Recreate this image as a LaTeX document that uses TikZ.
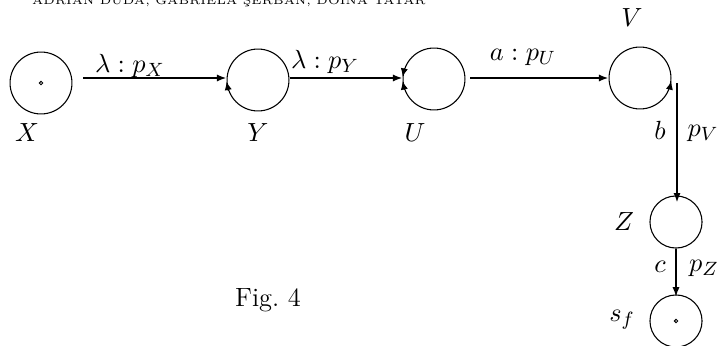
\documentclass[tikz,border=0pt]{standalone}
\usepackage{amsmath,amssymb}
\usepackage{xcolor}
\usepackage{tikz}
\usetikzlibrary{arrows.meta}
\definecolor{figline}{RGB}{0,0,0}
\tikzset{
  state/.style ={circle, draw=figline, line width=0.45pt, minimum size=25.8pt, inner sep=0pt},
  smst/.style  ={circle, draw=figline, line width=0.45pt, minimum size=21.7pt, inner sep=0pt},
  lab/.style   ={font=\fontsize{11}{13}\selectfont, inner sep=1pt},
  hdr/.style   ={font=\fontsize{4.8}{6}\selectfont, inner sep=0pt, anchor=base},
  ptr/.style   ={draw=figline, line width=0.8pt, -{Latex[length=4pt,width=3pt]}},
  tick/.style  ={draw=figline, line width=0.5pt, -{Latex[length=3.5pt,width=3pt]}},
}

\begin{document}
\begin{tikzpicture}[x=0.4167pt, y=-0.4167pt]
  \useasboundingbox (0,0) rectangle (719,346);
  % running head, cut by the page
  \node[hdr] (head) at (229,4.5) {ADRIAN DUDA, GABRIELA \c{S}ERBAN, DOINA TATAR};
  % states
  \node[state] (X) at (41,83) {};
  \node[state] (Y) at (258,80) {};
  \node[state] (U) at (434,79) {};
  \node[state] (V) at (640,78) {};
  \node[smst]  (Z) at (676,222) {};
  \node[smst]  (sf) at (676,321) {};
  \draw[figline,line width=0.4pt] (X.center) circle (0.7pt);
  \draw[figline,line width=0.4pt] (sf.center) circle (0.7pt);
  % state names
  \node[lab] (nX) at (27,133) {$X$};
  \node[lab] (nY) at (258,133) {$Y$};
  \node[lab] (nU) at (415,133) {$U$};
  \node[lab] (nV) at (632,18) {$V$};
  \node[lab] (nZ) at (624,222) {$Z$};
  \node[lab] (nsf) at (622,320) {$s_f$};
  % transitions
  \coordinate (xout) at (83,78);
  \coordinate (uout) at (470,78);
  \coordinate (vout) at (677,83);
  \draw[ptr] (xout) -- (xout -| Y.west);
  \draw[ptr] (Y.east |- xout) -- (xout -| U.west);
  \draw[ptr] (uout) -- (uout -| V.west);
  \draw[ptr,shorten >=-3pt] (vout) -- (vout |- Z.north);
  \draw[ptr,shorten >=-1pt] (Z.south) -- (sf.north);
  % marks on the circles
  \draw[tick] (Y.200) -- (Y.183);
  \draw[tick] (U.160) -- (U.176);
  \draw[tick] (U.200) -- (U.184);
  \draw[tick] (V.340) -- (V.354);
  % labels
  \node[lab] (lx) at (130,66) {$\lambda : p_X$};
  \node[lab] (ly) at (325,62) {$\lambda : p_Y$};
  \node[lab] (lu) at (523,57) {$a : p_U$};
  \node[lab] (lb) at (660,130) {$b$};
  \node[lab] (lpv) at (703,133) {$p_V$};
  \node[lab] (lc) at (660,267) {$c$};
  \node[lab] (lpz) at (704,268) {$p_Z$};
  \node[lab] (cap) at (268,300) {Fig.~4};
\end{tikzpicture}
\end{document}
